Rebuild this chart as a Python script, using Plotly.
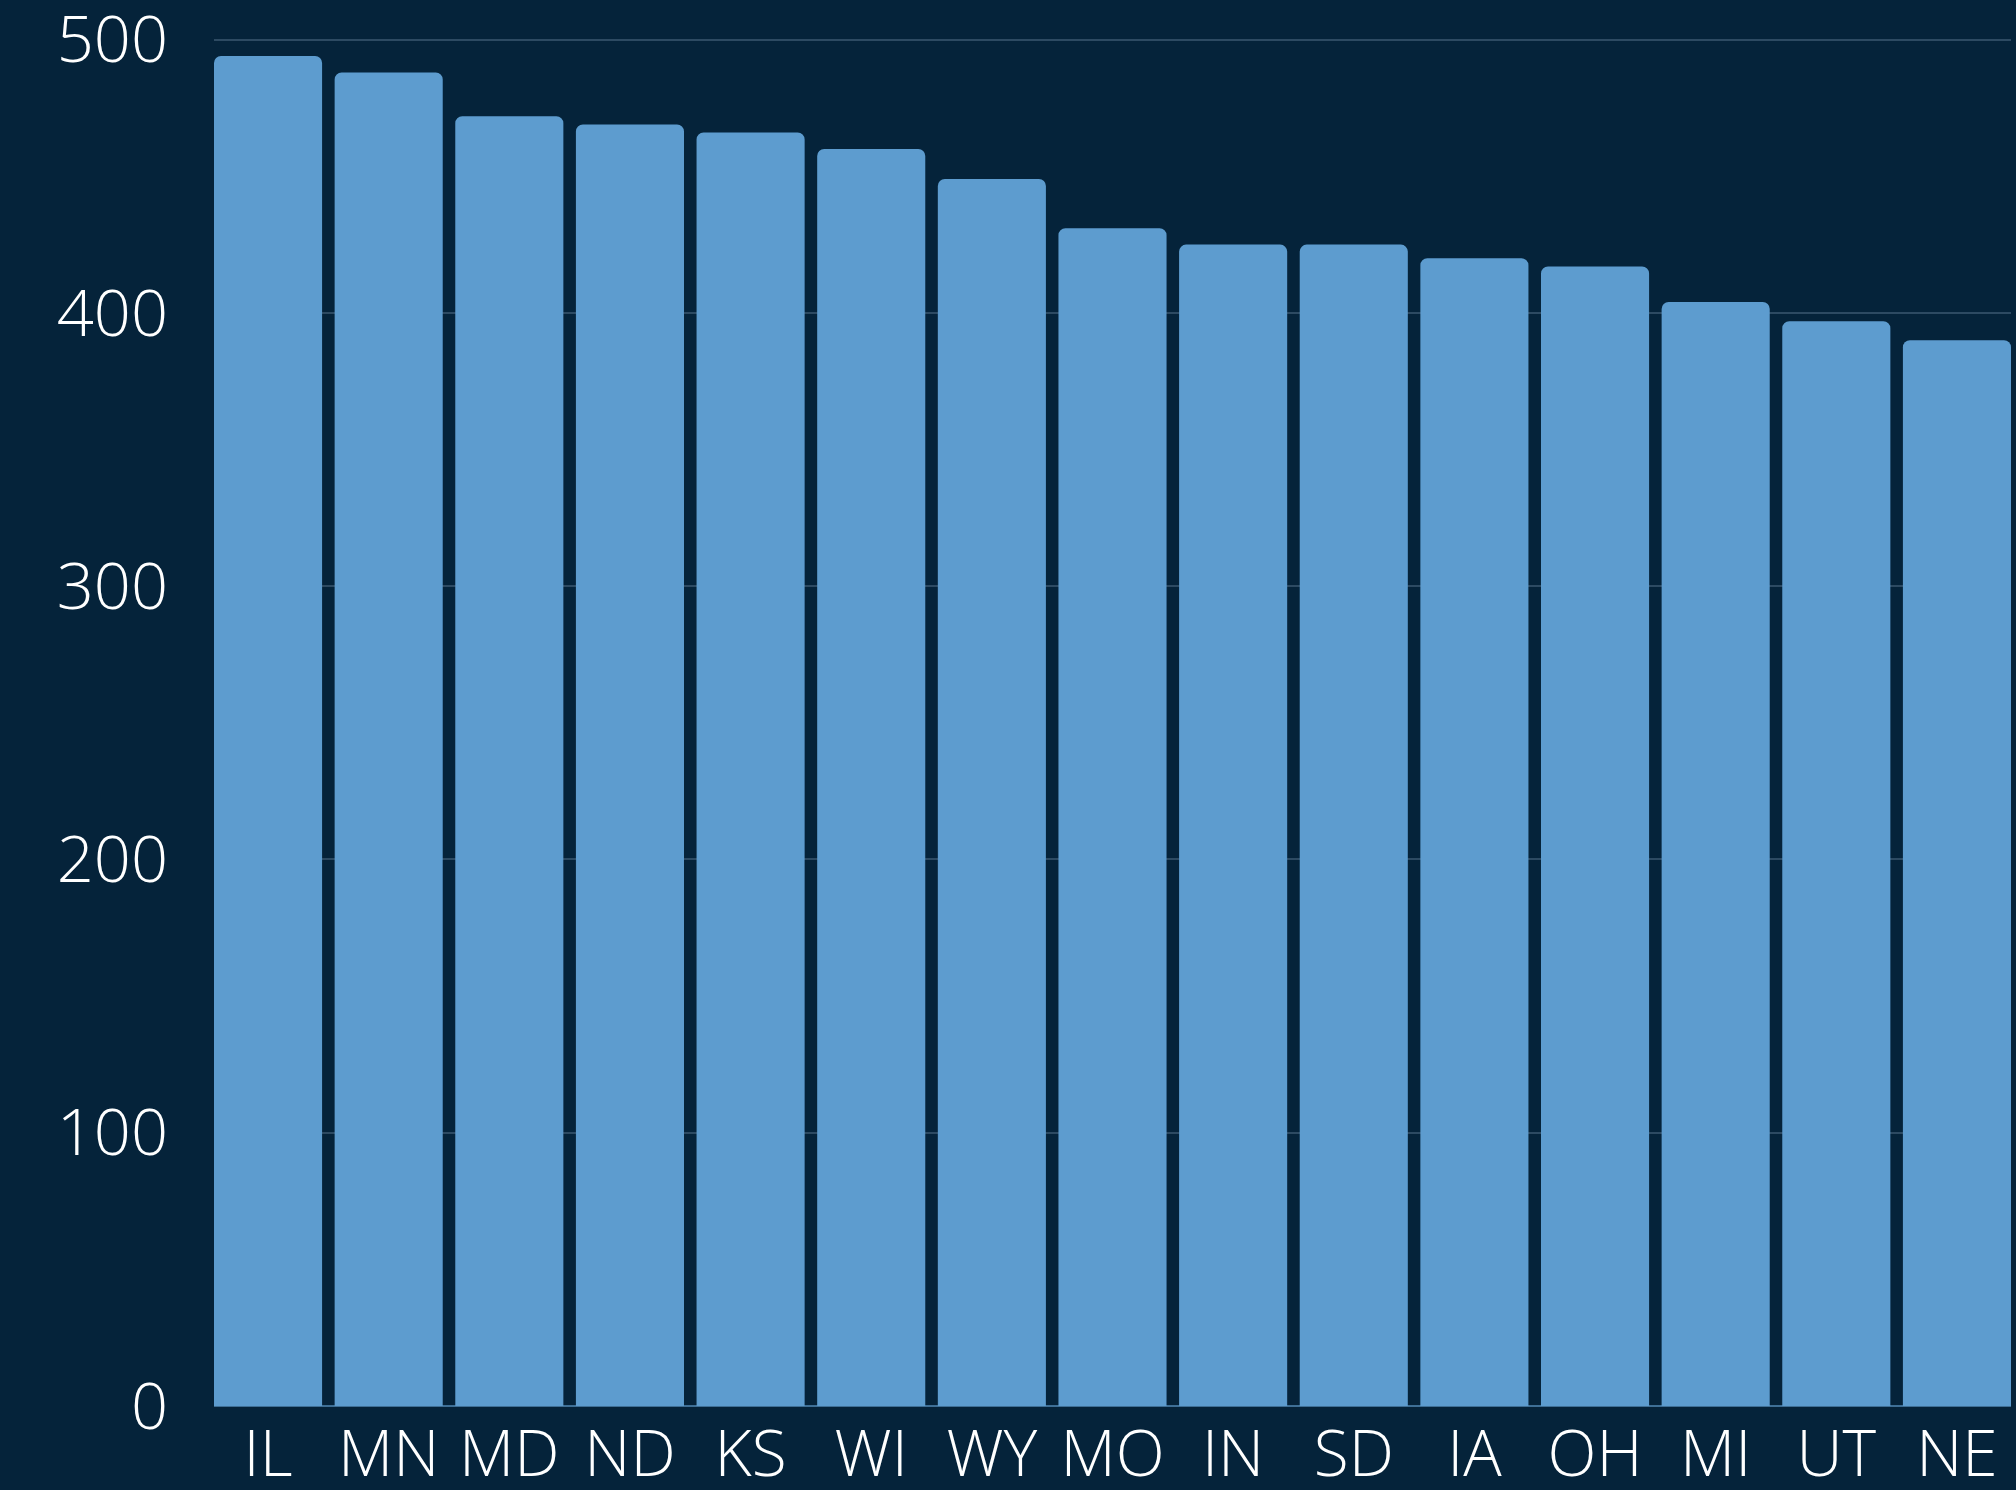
import plotly.graph_objects as go

states = ["IL", "MN", "MD", "ND", "KS", "WI", "WY", "MO", "IN", "SD", "IA", "OH", "MI", "UT", "NE"]
values = [494, 488, 472, 469, 466, 460, 449, 431, 425, 425, 420, 417, 404, 397, 390]
y_ticks = [0, 100, 200, 300, 400, 500]

bg = "#05233A"
bar_color = "#5D9CCF"
gap = 0.104

fig = go.Figure(
    go.Bar(
        x=list(range(len(states))),
        y=values,
        marker=dict(color=bar_color, cornerradius=7, line=dict(width=0)),
        hoverinfo="skip",
    )
)

fig.update_layout(
    width=2016,
    height=1490,
    paper_bgcolor=bg,
    plot_bgcolor=bg,
    margin=dict(l=214, r=5, t=26, b=84),
    bargap=gap,
    showlegend=False,
    font=dict(family="Open Sans", color="#FFFFFF", size=62, weight=300),
)

fig.update_xaxes(
    range=[-0.5 + gap / 2, len(states) - 0.5 - gap / 2],
    tickmode="array",
    tickvals=list(range(len(states))),
    ticktext=states,
    showgrid=False,
    zeroline=False,
    showline=False,
    ticks="",
    tickfont=dict(size=64),
    automargin=False,
    ticklabelstandoff=5,
    ticklabeloverflow="allow",
)

fig.update_yaxes(
    range=[0, 505],
    tickmode="array",
    tickvals=y_ticks,
    ticktext=[str(v) for v in y_ticks],
    showgrid=True,
    gridcolor="rgba(120,150,175,0.35)",
    gridwidth=1.5,
    zeroline=True,
    zerolinecolor="#3E6F96",
    zerolinewidth=2,
    showline=False,
    ticks="",
    tickfont=dict(size=65),
    automargin=False,
    ticklabelstandoff=45,
    ticklabeloverflow="allow",
)

body = fig.to_html(full_html=False, include_plotlyjs=True, config={"displayModeBar": False})
html = (
    "<!DOCTYPE html><html><head><meta charset='utf-8'>"
    "<style>html,body{margin:0;padding:0;background:" + bg + ";overflow:hidden;}</style>"
    "</head><body>" + body + "</body></html>"
)
with open("out.html", "w", encoding="utf-8") as f:
    f.write(html)
